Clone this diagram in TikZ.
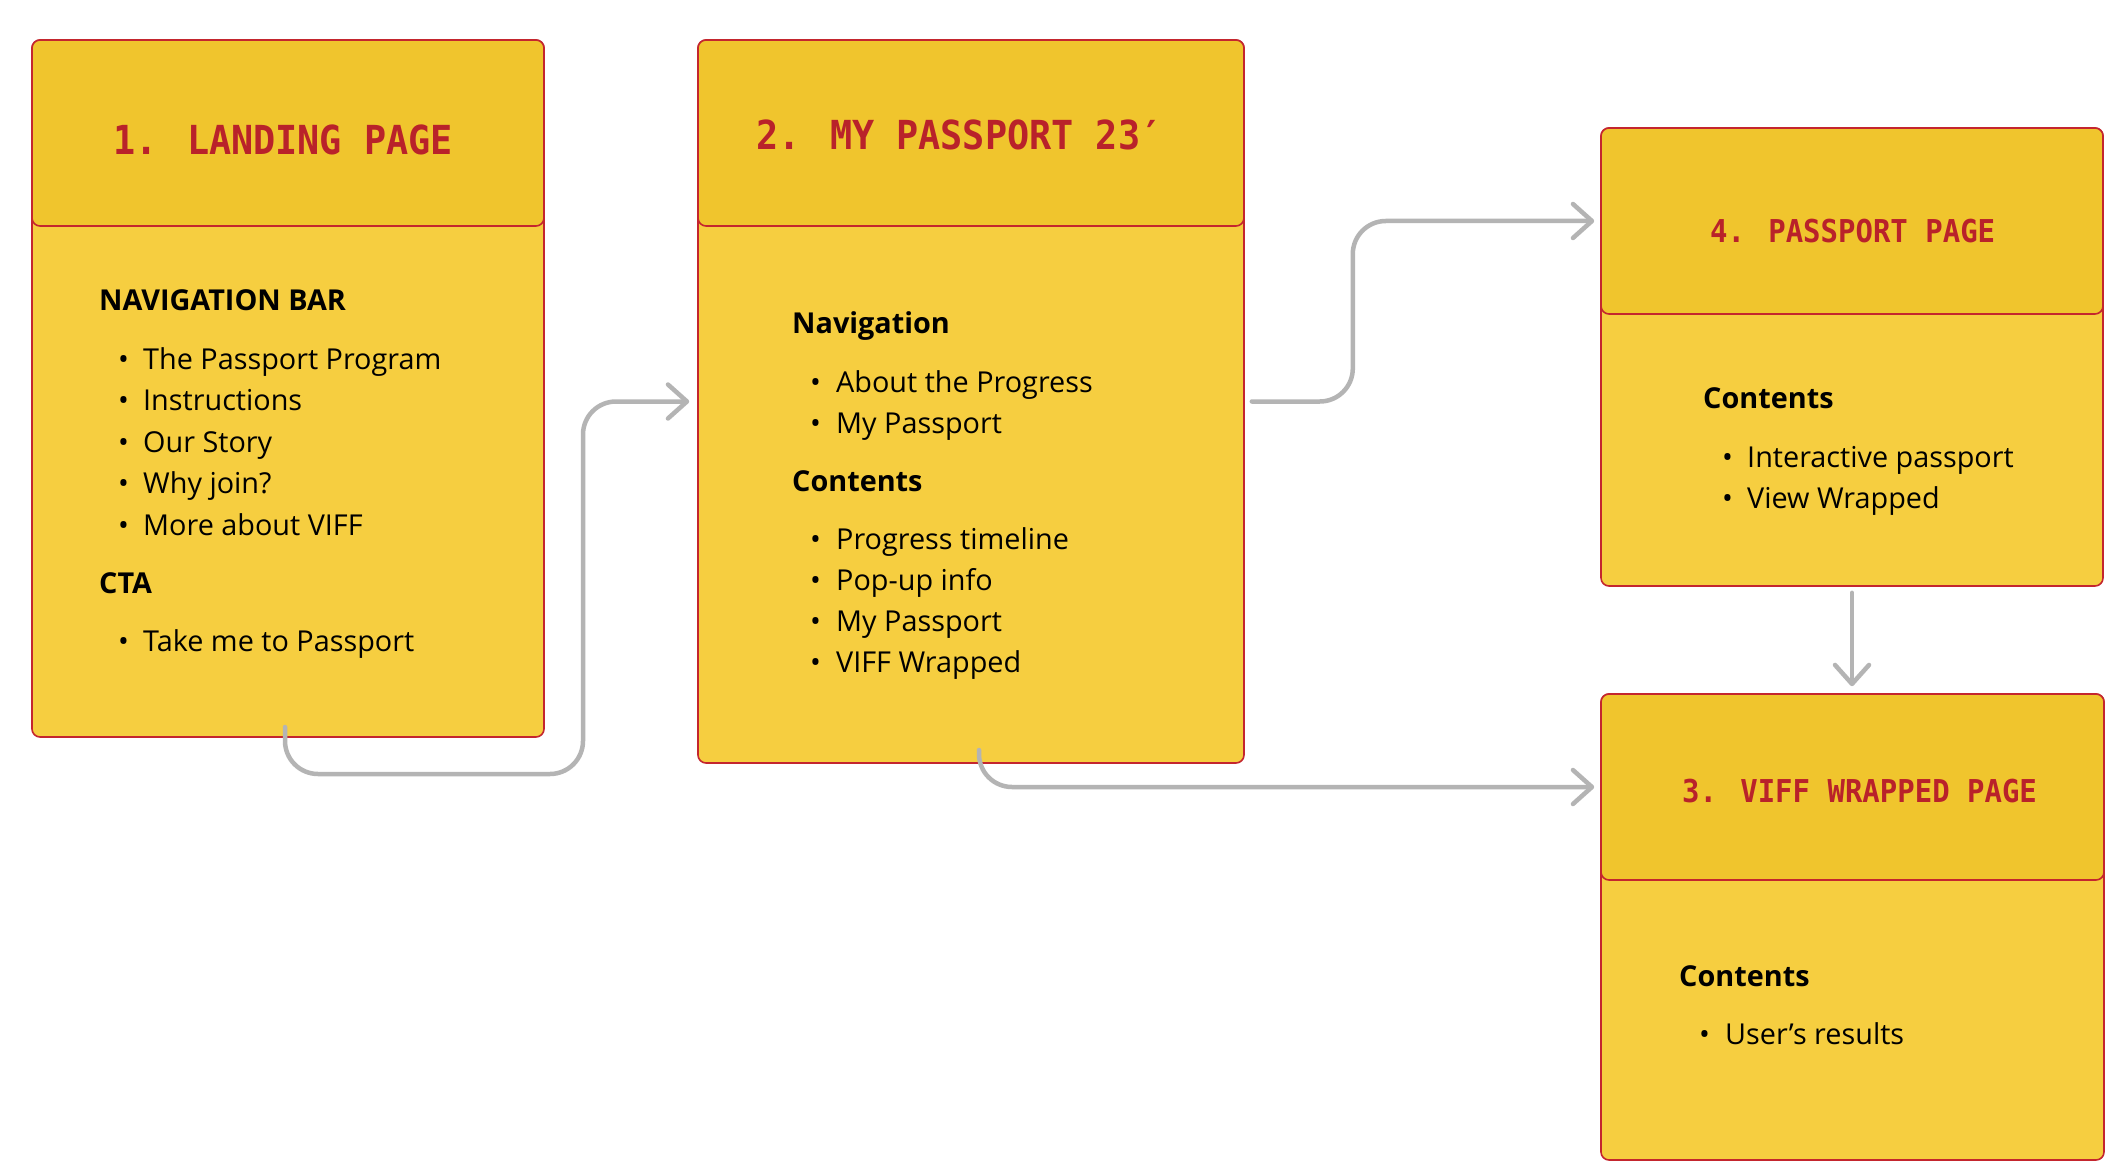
\documentclass[tikz,border=0pt]{standalone}
\usepackage{fontspec}
\setmainfont{Open Sans}
\newfontfamily\titlefont[FakeStretch=0.92]{DejaVu Sans Mono Bold}
\usetikzlibrary{arrows.meta}
\definecolor{hdr}{HTML}{F0C52D}
\definecolor{bodyc}{HTML}{F6CE40}
\definecolor{edge}{HTML}{C4262E}
\definecolor{ttl}{HTML}{B9222A}
\definecolor{conncol}{HTML}{B4B4B4}
\begin{document}
\begin{tikzpicture}[x=1pt,y=-1pt,
 bodybox/.style={draw=edge,fill=bodyc,line width=1.6pt,rounded corners=8pt,inner sep=0pt},
 hdrbox/.style={draw=edge,fill=hdr,line width=1.6pt,rounded corners=8pt,inner sep=0pt,anchor=north},
 ttlbig/.style={anchor=base west,inner sep=0pt,text=ttl,font=\titlefont\fontsize{40}{40}\selectfont},
 ttlsmall/.style={anchor=base west,inner sep=0pt,text=ttl,font=\titlefont\fontsize{31.5}{32}\selectfont},
 head/.style={anchor=base west,inner sep=0pt,font=\bfseries\fontsize{28.8}{34}\selectfont},
 item/.style={anchor=base west,inner sep=0pt,font=\fontsize{28.8}{34}\selectfont},
 conn/.style={draw=conncol,line width=4.5pt,line cap=round,rounded corners=33pt,-{Straight Barb[length=19pt,width=34pt,round]}}
]
\useasboundingbox (0,0) rectangle (2113,1169);
\fill[white] (0,0) rectangle (2113,1169);

% Box 1
\node[bodybox,minimum width=512pt,minimum height=697pt] (box1) at (288,388.5) {};
\node[hdrbox,minimum width=512pt,minimum height=186pt] (h1) at (box1.north) {};
\node[ttlbig] (t1) at (113,155) {1. LANDING PAGE};
\node[head] (b1h1) at (99,310) {NAVIGATION BAR};
\node[item] (b1d1) at (118,369) {•}; \node[item] (b1i1) at (143,369) {The Passport Program};
\node[item] (b1d2) at (118,410) {•}; \node[item] (b1i2) at (143,410) {Instructions};
\node[item] (b1d3) at (118,452) {•}; \node[item] (b1i3) at (143,452) {Our Story};
\node[item] (b1d4) at (118,493) {•}; \node[item] (b1i4) at (143,493) {Why join?};
\node[item] (b1d5) at (118,535) {•}; \node[item] (b1i5) at (143,535) {More about VIFF};
\node[head] (b1h2) at (99,593) {CTA};
\node[item] (b1d6) at (118,651) {•}; \node[item] (b1i6) at (143,651) {Take me to Passport};

% Box 2
\node[bodybox,minimum width=546pt,minimum height=723pt] (box2) at (971,401.5) {};
\node[hdrbox,minimum width=546pt,minimum height=186pt] (h2) at (box2.north) {};
\node[ttlbig] (t2) at (756,150) {2. MY PASSPORT 23′};
\node[head] (b2h1) at (792,333) {Navigation};
\node[item] (b2d1) at (810,392) {•}; \node[item] (b2i1) at (836,392) {About the Progress};
\node[item] (b2d2) at (810,433) {•}; \node[item] (b2i2) at (836,433) {My Passport};
\node[head] (b2h2) at (792,491) {Contents};
\node[item] (b2d3) at (810,549) {•}; \node[item] (b2i3) at (836,549) {Progress timeline};
\node[item] (b2d4) at (810,590) {•}; \node[item] (b2i4) at (836,590) {Pop-up info};
\node[item] (b2d5) at (810,631) {•}; \node[item] (b2i5) at (836,631) {My Passport};
\node[item] (b2d6) at (810,672) {•}; \node[item] (b2i6) at (836,672) {VIFF Wrapped};

% Box 4
\node[bodybox,minimum width=502pt,minimum height=458pt] (box4) at (1852,357) {};
\node[hdrbox,minimum width=502pt,minimum height=186pt] (h4) at (box4.north) {};
\node[ttlsmall] (t4) at (1710,243) {4. PASSPORT PAGE};
\node[head] (b4h1) at (1703,408) {Contents};
\node[item] (b4d1) at (1722,467) {•}; \node[item] (b4i1) at (1747,467) {Interactive passport};
\node[item] (b4d2) at (1722,508) {•}; \node[item] (b4i2) at (1747,508) {View Wrapped};

% Box 3
\node[bodybox,minimum width=503pt,minimum height=466pt] (box3) at (1852.5,927) {};
\node[hdrbox,minimum width=503pt,minimum height=186pt] (h3) at (box3.north) {};
\node[ttlsmall] (t3) at (1682,802) {3. VIFF WRAPPED PAGE};
\node[head] (b3h1) at (1679,986) {Contents};
\node[item] (b3d1) at (1699,1044) {•}; \node[item] (b3i1) at (1725,1044) {User’s results};

% Connectors
\coordinate (s1) at (285,727);
\coordinate (c1) at (583,774);
\draw[conn,shorten >=8pt] (s1) |- (c1) |- (box2.west);
\draw[conn,shorten <=7pt,shorten >=6pt] (box2.east) -- ++(108,0) |- (h4.west);
\coordinate (s3) at (979,750);
\draw[conn,shorten >=6pt] (s3) |- (h3.west);
\draw[conn,shorten <=6pt,shorten >=7pt] (box4.south) -- (box4.south |- box3.north);
\end{tikzpicture}
\end{document}
